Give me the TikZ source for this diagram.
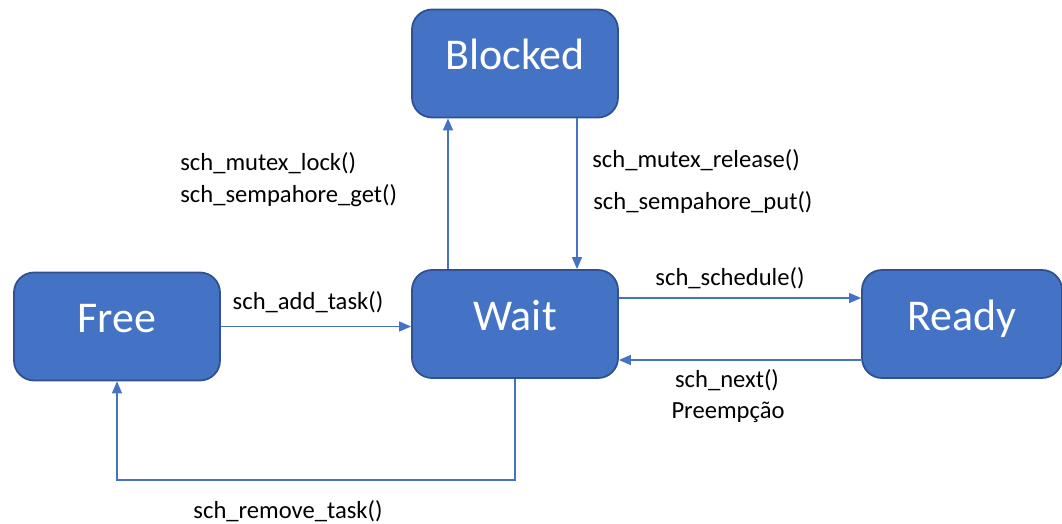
\documentclass[tikz,border=0pt]{standalone}
\usepackage{fontspec}
\setmainfont{Carlito}
\usetikzlibrary{calc,arrows.meta,positioning}
\definecolor{stateblue}{HTML}{4472C4}
\definecolor{stateedge}{HTML}{2F528F}
\begin{document}
\begin{tikzpicture}[
  state/.style={draw=stateedge, line width=1pt, fill=stateblue, rounded corners=0.4cm,
    text=white, font=\fontsize{25}{30}\selectfont, inner sep=0pt,
    minimum width=4.12cm, minimum height=2.16cm, text height=0.57cm, text depth=0.32cm},
  trans/.style={draw=stateblue, line width=0.8pt, -{Triangle[length=0.24cm,width=0.2cm]}},
  call/.style={font=\fontsize{14}{16}\selectfont, inner sep=0pt}
]
\useasboundingbox (0,0) rectangle (21.24,-10.48);
\node[state] (blocked) at (10.30,-1.27) {Blocked};
\node[state] (free) at (2.34,-6.53) {Free};
\node[state] (wait) at (10.30,-6.48) {Wait};
\node[state, minimum width=4.0cm] (ready) at (19.24,-6.48) {Ready};
\coordinate (lockx) at (8.96,0);
\coordinate (relx) at (11.54,0);
\coordinate (schy) at (0,-5.96);
\coordinate (nexty) at (0,-7.20);
\coordinate (remy) at (0,-9.60);
\draw[trans] (free.east |- 0,-6.53) -- (wait.west |- 0,-6.53);
\draw[trans] (wait.north -| lockx) -- (blocked.south -| lockx);
\draw[trans] (blocked.south -| relx) -- (wait.north -| relx);
\draw[trans] (wait.east |- schy) -- (ready.west |- schy);
\draw[trans] (ready.west |- nexty) -- (wait.east |- nexty);
\draw[trans] (wait.south) |- (remy -| free.south) -- (free.south);
\node[call] (addtask) at (6.16,-6.04) {sch\_add\_task()};
\node[call, anchor=west] (lock) at (3.60,-3.26) {sch\_mutex\_lock()};
\node[call, anchor=west] (semget) at (3.60,-3.92) {sch\_sempahore\_get()};
\node[call, anchor=west] (release) at (11.84,-3.20) {sch\_mutex\_release()};
\node[call, anchor=west] (semput) at (11.86,-4.04) {sch\_sempahore\_put()};
\node[call] (schedule) at (14.60,-5.56) {sch\_schedule()};
\node[call] (next) at (14.54,-7.60) {sch\_next()};
\node[call] (preempt) at (14.56,-8.24) {Preempção};
\node[call] (remtask) at (5.76,-10.22) {sch\_remove\_task()};
\end{tikzpicture}
\end{document}
